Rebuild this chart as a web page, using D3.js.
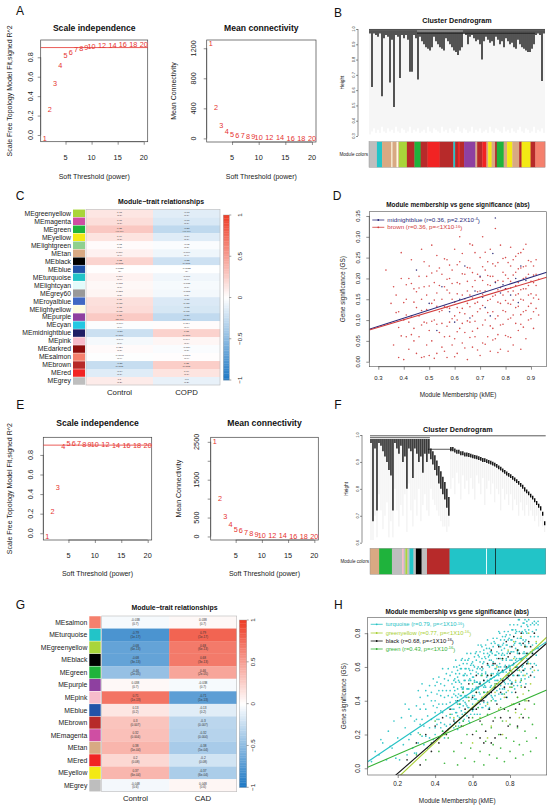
<!DOCTYPE html>
<html><head><meta charset="utf-8">
<script src="https://cdn.jsdelivr.net/npm/d3@7/dist/d3.min.js"></script>
<style>
html,body{margin:0;padding:0;background:#fff;}
svg{display:block;}
text{font-family:"Liberation Sans",Arial,Helvetica,sans-serif;}
</style></head><body>
<svg id="fig" width="550" height="807" viewBox="0 0 550 807"></svg>
<script>
// ================= DATA =================
// soft-threshold analysis
const powers = [1,2,3,4,5,6,7,8,9,10,12,14,16,18,20];
const copdR2 = [-0.034,0.268,0.532,0.72,0.814,0.85,0.88,0.895,0.9,0.91,0.92,0.925,0.93,0.93,0.935];
const copdK  = [1260,414,178,86,56,43,34,26,21,17,10,6,4,3,2];
const cadR2  = [-0.035,0.22,0.47,0.885,0.92,0.92,0.92,0.905,0.905,0.905,0.905,0.9,0.895,0.895,0.895];
const cadK   = [2520,1000,518,308,195,150,105,70,53,37,25,18,12,9,7];
const r2Cut = 0.9;
const r2Ticks = [0,0.2,0.4,0.6,0.8];
const copdKTicks = [0,400,800,1200];
const cadKTicks = [0,500,1000,1500,2000,2500];
const cadKShown = [true,true,false,true,false,true];
const powerTicks = [5,10,15,20];

// dendrogram B (COPD): per-leaf heights
const dB_top = [
0.99,0.99,0.99,0.99,0.99,0.99,0.99,0.99,0.99,0.99,
0.99,0.99,0.99,0.99,0.99,0.99,0.99,0.99,0.99,0.99,
0.99,0.99,0.99,0.99,0.985,0.985,0.985,0.985,0.985,0.985,
0.985,0.985,0.985,0.985,0.985,0.985,0.985,0.985,0.985,0.985,
0.985,0.985,0.985,0.985,0.985,0.985,0.985,0.99,0.99,0.99,
0.99,0.99,0.99,0.99,0.99,0.99,0.99,0.99,0.99,0.99,
0.99,0.99,0.99,0.99,0.99,0.99,0.99,0.99,0.99,0.99,
0.99,0.99,0.99,0.99,0.99,0.99,0.99,0.99,0.99,0.99,
0.99,0.99,0.99,0.99,0.99,0.99,0.99,0.99];
const dB_bot = [
0.97,0.62,0.97,0.96,0.95,0.97,0.56,0.94,0.96,0.95,
0.65,0.93,0.49,0.96,0.95,0.68,0.96,0.94,0.96,0.93,
0.72,0.72,0.96,0.94,0.67,0.95,0.92,0.90,0.88,0.87,
0.86,0.88,0.95,0.92,0.90,0.88,0.87,0.86,0.94,0.92,
0.90,0.88,0.86,0.85,0.83,0.86,0.88,0.97,0.96,0.90,
0.95,0.96,0.94,0.92,0.93,0.90,0.80,0.92,0.95,0.93,
0.91,0.92,0.89,0.95,0.93,0.90,0.92,0.88,0.94,0.92,
0.90,0.91,0.88,0.87,0.93,0.90,0.88,0.87,0.86,0.85,
0.85,0.87,0.90,0.96,0.97,0.96,0.66,0.97];
const dB_hang = [
0.31,0.33,0.35,0.32,0.34,0.32,0.36,0.33,0.32,0.35,
0.33,0.34,0.32,0.36,0.33,0.32,0.35,0.34,0.32,0.33,
0.36,0.32,0.34,0.33,0.35,0.32,0.33,0.34,0.32,0.36,
0.33,0.32,0.35,0.34,0.33,0.32,0.36,0.33,0.34,0.32,
0.35,0.33,0.32,0.34,0.36,0.33,0.32,0.35,0.34,0.32,
0.33,0.36,0.32,0.34,0.33,0.35,0.32,0.33,0.34,0.32,
0.36,0.33,0.32,0.35,0.34,0.33,0.32,0.36,0.33,0.34,
0.32,0.35,0.33,0.32,0.34,0.36,0.33,0.32,0.35,0.34,
0.32,0.33,0.36,0.32,0.34,0.33,0.35,0.32];
const dB_links = [[0,88,0.997],[0,88,0.992],[24,83,0.972]];
const dB_ticks = [0.3,0.4,0.5,0.6,0.7,0.8,0.9,1.0];
const modB = [["grey",23],["turquoise",15],["tan",27],["lightyellow",3],["tan",12],["lightyellow",5],["tan",2],
["greenyellow",23],["brown",22],["green",18],["brown",20],["red",35],["brown",40],["turquoise",5],["brown",8],
["red",5],["brown",13],["purple",33],["tan",5],["brown",15],["red",12],["tan",5],["yellow",10],["tan",10],
["brown",5],["green",20],["tan",10],["yellow",15],["tan",20],["brown",7],["yellow",26],["brown",14],["salmon",28]];

// dendrogram F (CAD)
const dF_top = [
0.985,0.985,0.985,0.985,0.985,0.985,0.985,0.985,0.985,0.985,
0.985,0.985,0.985,0.985,0.985,0.985,0.985,0.985,0.985,0.985,
0.985,0.985,0.985,0.985,0.985,0.985,0.985,0.985,0.985,0.985,
0.95,0.94,0.925,0.905,0.885,0.865,0.845,0.825,0.80,0.77,
0.955,0.955,0.95,0.945,0.945,0.94,0.94,0.935,0.935,0.933,
0.93,0.928,0.926,0.924,0.921,0.918,0.915,0.914,0.91,0.907,
0.904,0.901,0.897,0.892,0.887,0.882,0.876,0.87,0.864,0.859,
0.854,0.848,0.842,0.836,0.829,0.822,0.815,0.806,0.798,0.79,
0.782,0.774,0.765,0.755,0.745,0.735,0.715,0.68];
const dF_bot = [
0.97,0.68,0.95,0.72,0.97,0.96,0.94,0.92,0.90,0.87,
0.85,0.72,0.97,0.95,0.93,0.96,0.90,0.92,0.80,0.95,
0.94,0.84,0.95,0.93,0.90,0.92,0.86,0.93,0.90,0.93,
0.91,0.89,0.87,0.85,0.82,0.80,0.78,0.76,0.73,0.70,
0.94,0.94,0.935,0.93,0.93,0.925,0.925,0.92,0.92,0.918,
0.916,0.914,0.912,0.91,0.907,0.904,0.90,0.90,0.896,0.893,
0.89,0.887,0.883,0.878,0.873,0.868,0.862,0.856,0.85,0.845,
0.84,0.834,0.828,0.822,0.815,0.808,0.80,0.79,0.784,0.776,
0.768,0.76,0.75,0.74,0.73,0.72,0.70,0.665];
const dF_hang = [
0.61,0.61,0.70,0.62,0.78,0.72,0.65,0.70,0.75,0.62,
0.68,0.62,0.80,0.72,0.66,0.74,0.70,0.78,0.64,0.82,
0.72,0.66,0.76,0.70,0.80,0.68,0.74,0.78,0.72,0.70,
0.80,0.76,0.74,0.72,0.70,0.68,0.66,0.66,0.64,0.66,
0.80,0.84,0.78,0.86,0.82,0.76,0.85,0.80,0.83,0.78,
0.84,0.80,0.76,0.85,0.82,0.78,0.84,0.74,0.80,0.83,
0.78,0.82,0.75,0.80,0.78,0.72,0.80,0.76,0.78,0.74,
0.78,0.72,0.76,0.74,0.70,0.75,0.72,0.70,0.74,0.70,
0.72,0.70,0.68,0.70,0.66,0.68,0.66,0.64];
const dF_links = [[0,88,0.997],[0,30,0.99],[29,41,0.947]];
const dF_ticks = [0.6,0.7,0.8,0.9,1.0];
const modF = [["tan",27],["green",38],["grey",30],["pink",5],["grey",5],["greenyellow",6],["grey",6],["turquoise",12],
["grey",7],["black",17],["grey",16],["brown",67],["turquoise",108],["lightcyan",3],["turquoise",24],["black",2],["turquoise",148]];

// module-trait relationships, COPD dataset
const copdModules = ["greenyellow","magenta","green","yellow","lightgreen","tan","black","blue","turquoise","lightcyan","grey60","royalblue","lightyellow","purple","cyan","midnightblue","pink","darkred","salmon","brown","red","grey"];
const copdCtrl = [0.13,0.17,0.28,0.14,0.02,0.069,0.22,0.0028,0.066,0.038,0.053,0.16,0.18,0.27,-0.014,-0.23,-0.044,0.024,-0.0096,-0.25,-0.14,0.1];
const copdCOPD = [-0.13,-0.17,-0.28,-0.14,-0.02,-0.069,-0.22,-0.0028,-0.066,-0.038,-0.053,-0.16,-0.18,-0.27,0.014,0.23,0.044,-0.024,0.0096,0.25,0.14,-0.1];
const copdP = ["0.1","0.1","4e-04","0.1","0.8","0.4","0.008","1","0.4","0.7","0.5","0.05","0.03","2e-04","0.9","0.006","0.6","0.8","0.9","0.002","0.1","0.2"];
const copdTraits = ["Control","COPD"];

// module-trait relationships, CAD dataset
const cadModules = ["salmon","turquoise","greenyellow","black","green","purple","pink","blue","brown","magenta","tan","red","yellow","grey"];
const cadCtrl = [-0.038,-0.79,-0.68,-0.68,-0.46,0.038,0.71,0.13,0.3,0.32,0.38,0.2,0.37,-0.048];
const cadCAD  = [0.038,0.79,0.68,0.68,0.46,-0.038,-0.71,-0.13,-0.3,-0.32,-0.38,-0.2,-0.37,0.048];
const cadP = ["0.7","1e-17","6e-13","3e-13","2e-05","0.7","1e-13","0.2","0.007","0.004","5e-04","0.08","6e-04","0.6"];
const cadTraits = ["Control","CAD"];
const cbTicks = [-1,-0.5,0,0.5,1];

// panel D scatter: [kME x100, GS x1000]
const dBrown = [
[33,220],[35,140],[36,40],[37,160],[38,10],[39,262],[39,200],[40,100],[40,5],[38,120],[36,180],
[41,150],[41,60],[42,200],[42,30],[43,110],[43,245],[44,80],[44,175],[45,20],[45,130],[42,95],[44,50],[41,185],
[46,205],[46,60],[47,150],[47,10],[47,270],[48,95],[48,180],[49,40],[49,125],[50,230],[50,75],[46,110],[48,240],[49,160],[50,15],
[51,140],[51,50],[52,190],[52,100],[53,20],[53,255],[53,165],[54,70],[54,120],[55,210],[55,35],[51,280],[52,8],[54,225],[55,150],[53,90],
[56,180],[56,60],[57,130],[57,245],[57,10],[58,95],[58,200],[59,40],[59,150],[60,270],[60,110],[56,25],[58,165],[59,220],[60,55],[57,85],
[61,190],[61,130],[61,20],[62,240],[62,80],[62,300],[63,160],[63,45],[64,210],[64,115],[65,5],[65,170],[63,260],[64,70],[65,140],[61,100],
[66,225],[66,95],[67,180],[67,35],[67,280],[68,140],[68,60],[69,210],[69,120],[70,250],[70,15],[66,160],[68,195],[69,80],[70,170],[67,110],
[71,300],[71,135],[71,45],[72,220],[72,100],[73,185],[73,60],[73,240],[74,150],[74,25],[75,205],[75,120],[72,170],[74,270],[75,80],[71,195],
[76,230],[76,160],[76,55],[77,195],[77,110],[78,280],[78,140],[78,30],[79,215],[79,90],[80,175],[80,250],[77,65],[79,160],[80,120],[76,320],
[81,200],[81,140],[81,60],[82,230],[82,105],[82,275],[83,170],[83,40],[84,215],[84,130],[85,190],[85,75],[83,245],[84,160],[81,25],[85,260],
[86,225],[86,150],[86,90],[87,200],[87,270],[87,120],[88,175],[88,230],[88,55],[89,160],[89,210],[90,140],[90,240],[86,30],[89,100],[87,175],
[91,190],[91,230],[91,120],[92,160],[92,210],[93,150],[91,80],[92,245],
[43,65],[44,143],[46,177],[47,88],[48,12],[49,205],[51,97],[52,148],[53,218],[54,183],[55,92],[56,133],[56,247],[57,172],[58,61],[58,128],
[59,188],[60,12],[60,143],[61,72],[61,233],[62,118],[62,187],[63,92],[63,211],[64,33],[64,151],[65,98],[65,226],[66,132],[66,58],[67,153],
[67,214],[68,97],[68,262],[69,168],[69,28],[70,127],[70,203],[71,88],[71,162],[72,42],[72,263],[73,118],[73,207],[74,183],[74,86],[75,157],
[75,235],[75,52],[76,103],[76,192],[77,238],[77,143],[77,22],[78,178],[78,88],[79,248],[79,123],[80,63],[80,208],[80,147],[81,168],[81,102],
[82,193],[82,138],[82,58],[83,208],[83,112],[84,183],[84,92],[84,253],[85,133],[85,223],[86,173],[86,113],[86,262],[87,148],[87,83],[88,203],
[88,123],[88,282],[89,183],[89,133],[90,193],[90,103],[90,163],[91,153],[91,208],[92,183],[92,128],[93,198],[87,228],[85,163],[83,148],[81,238],
[79,193],[77,173],[73,147],[71,228],[69,143],[67,73],[65,193],[63,128],[61,163],[59,103],[57,198],[55,123],[53,133],[51,213],[49,93],[47,123],
[45,168],[43,188],[41,112],[40,142],[39,62],[38,82],[37,118],[50,182],[58,232],[66,283],[74,205],[82,177],[89,243],[93,112]];
const dNavy = [[45,220],[50,140],[55,180],[58,120],[62,150],[64,230],[68,170],[70,205],[72,130],[74,110],[76,190],[76,345],
[78,165],[80,175],[82,160],[84,200],[86,230],[88,195],[75,260],[66,105],[53,75],[60,95],[71,155],[79,185],[85,142]];
const dFits = [{name:"midnightblue", a:0.026, b:0.1966}, {name:"brown", a:0.0278, b:0.182}];
const dLegend = [["midnightblue","(r=0.36, p=2.2X10","-4"],["brown","(r=0.36, p=<1X10","-16"]];
const dXTicks = [0.3,0.4,0.5,0.6,0.7,0.8,0.9];
const dYTicks = [0,0.05,0.1,0.15,0.2,0.25,0.3,0.35];

// panel H scatter: [kME x100, GS x100]
const hTurq = [
[6,4],[8,10],[10,8],[11,17],[12,15],[14,5],[15,22],[16,13],[17,12],[18,28],[19,6],[20,18],[21,5],[22,30],[23,14],[24,24],[25,8],[26,35],[27,20],[28,12],[29,28],[24,38],[26,17],[27,31],[29,9],
[30,9],[30,29],[30,37],[31,21],[31,46],[31,15],[32,35],[32,26],[32,42],[33,19],[33,29],[33,50],[34,14],[34,38],[34,25],
[35,46],[35,19],[35,35],[36,12],[36,43],[36,31],[37,24],[37,49],[37,18],[38,40],[38,29],[38,45],[39,17],[39,37],[39,53],
[40,24],[40,40],[40,33],[40,49],[40,20],[41,44],[41,29],[41,51],[41,26],[41,36],[42,18],[42,38],[42,46],[42,29],[42,54],
[43,24],[43,43],[43,34],[43,50],[43,27],[44,38],[44,59],[44,22],[44,46],[44,33],[45,53],[45,26],[45,42],[45,18],[45,49],
[46,38],[46,31],[46,56],[46,25],[46,46],[47,36],[47,52],[47,23],[47,43],[47,59],[48,30],[48,46],[48,39],[48,55],[48,26],
[49,50],[49,35],[49,57],[49,32],[49,42],
[50,24],[50,44],[50,52],[50,35],[50,60],[50,29],[50,48],[51,40],[51,56],[51,33],[51,43],[51,64],[51,27],[51,51],
[52,38],[52,58],[52,31],[52,47],[52,23],[52,54],[52,42],[53,36],[53,61],[53,30],[53,51],[53,40],[53,56],[53,27],
[54,48],[54,64],[54,34],[54,50],[54,43],[54,59],[54,30],[55,55],[55,40],[55,62],[55,37],[55,47],[55,28],[55,48],
[56,56],[56,39],[56,64],[56,33],[56,52],[56,43],[56,59],[57,37],[57,47],[57,68],[57,31],[57,55],[57,42],[57,62],
[58,36],[58,52],[58,28],[58,59],[58,47],[58,40],[58,65],[59,35],[59,56],[59,45],[59,61],[59,32],[59,52],[59,68],
[60,38],[60,54],[60,47],[60,63],[60,34],[60,58],[60,43],[61,66],[61,41],[61,51],[61,32],[61,52],[61,60],[61,43],
[62,69],[62,38],[62,57],[62,48],[62,64],[62,41],[62,51],[63,73],[63,36],[63,60],[63,47],[63,67],[63,40],[63,56],
[64,32],[64,63],[64,51],[64,44],[64,69],[64,38],[64,59],[65,49],[65,65],[65,36],[65,56],[65,72],[65,42],[65,58],
[66,52],[66,68],[66,39],[66,63],[66,48],[66,70],[66,45],[67,56],[67,37],[67,57],[67,65],[67,48],[67,73],[67,42],
[68,61],[68,52],[68,68],[68,45],[68,55],[68,76],[68,39],[69,64],[69,51],[69,71],[69,44],[69,60],[69,36],[69,67],
[70,56],[70,49],[70,74],[70,43],[70,64],[70,53],[70,69],[71,41],[71,61],[71,77],[71,47],[71,63],[71,56],[71,72],
[72,43],[72,67],[72,52],[72,74],[72,49],[72,59],[72,40],[73,61],[73,69],[73,52],[73,77],[73,46],[73,65],[73,56],
[74,73],[74,50],[74,60],[74,81],[74,44],[74,68],[74,55],[75,76],[75,49],[75,65],[75,41],[75,72],[75,60],[75,53],
[76,78],[76,47],[76,68],[76,57],[76,73],[76,44],[76,64],[77,81],[77,51],[77,67],[77,60],[77,76],[77,47],[77,71],
[78,57],[78,79],[78,54],[78,64],[78,45],[78,65],[78,73],[79,56],[79,81],[79,50],[79,69],[79,60],[79,76],[79,53],
[80,64],[80,85],[80,48],[80,72],[80,59],[80,79],[80,52],[81,69],[81,45],[81,76],[81,64],[81,57],[81,82],[81,51],
[82,73],[82,62],[82,78],[82,49],[82,69],[82,85],[82,55],[83,71],[83,64],[83,80],[83,51],[83,75],[83,60],[83,82],
[84,58],[84,68],[84,49],[84,69],[84,77],[84,60],[84,85],[85,55],[85,74],[85,65],[85,81],[85,58],[85,68],[85,88],
[86,53],[86,77],[86,64],[86,84],[86,57],[86,73],[86,49],[87,80],[87,68],[87,61],[87,86],[87,55],[87,76],[87,65],
[88,82],[88,53],[88,73],[88,88],[88,59],[88,75],[88,68],[89,85],[89,56],[89,80],[89,65],[89,87],[89,62],[89,72],
[90,54],[90,74],[90,82],[90,65],[90,88],[91,59],[91,78],[91,69],[91,85],[91,62],[92,73],[92,86],[92,57],[92,81],[92,68],
[93,87],[93,62],[93,78],[93,54],[93,85],[94,74],[94,67],[94,86],[94,61],[94,82],[95,71],[95,87],[95,58],[95,78],[95,85],
[50.5,46],[50.5,27],[50.5,53],[51.5,39],[51.5,60],[51.5,33],[52.5,44],[52.5,25],[52.5,52],[53.5,38],[53.5,59],[53.5,43],
[54.5,65],[54.5,32],[54.5,47],[55.5,55],[55.5,29],[55.5,52],[56.5,42],[56.5,59],[56.5,38],[57.5,64],[57.5,36],[57.5,47],
[58.5,58],[58.5,27],[58.5,53],[59.5,46],[59.5,62],[59.5,41],[60.5,54],[60.5,35],[60.5,61],[61.5,47],[61.5,68],[61.5,41],
[62.5,51],[62.5,32],[62.5,59],[63.5,45],[63.5,66],[63.5,50],[64.5,73],[64.5,40],[64.5,55],[65.5,62],[65.5,36],[65.5,59],
[66.5,49],[66.5,66],[66.5,45],[67.5,71],[67.5,43],[67.5,54],[68.5,66],[68.5,35],[68.5,61],[69.5,53],[69.5,69],[69.5,48],
[70.5,61],[70.5,42],[70.5,68],[71.5,54],[71.5,75],[71.5,48],[72.5,59],[72.5,40],[72.5,67],[73.5,52],[73.5,73],[73.5,57],
[74.5,80],[74.5,47],[74.5,62],[75.5,70],[75.5,44],[75.5,67],[76.5,57],[76.5,74],[76.5,53],[77.5,78],[77.5,50],[77.5,61],
[78.5,73],[78.5,42],[78.5,68],[79.5,61],[79.5,77],[79.5,56],[80.5,69],[80.5,50],[80.5,76],[81.5,61],[81.5,82],[81.5,55],
[82.5,66],[82.5,47],[82.5,74],[83.5,60],[83.5,81],[83.5,65],[84.5,88],[84.5,55],[84.5,70],[85.5,77],[85.5,51],[85.5,74],
[86.5,64],[86.5,81],[86.5,60],[87.5,86],[87.5,58],[87.5,69],[88.5,81],[88.5,50],[88.5,76],[89.5,68],[89.5,84],[89.5,63]];
const hGreenyellow = [[45,20],[50,30],[55,25],[58,40],[60,15],[62,45],[64,30],[66,50],[68,38],[70,55],[70,25],[72,45],[73,60],[74,35],[75,50],[76,65],[77,42],[78,55],[78,28],[79,70],[80,48],[80,60],[81,38],[82,65],[82,75],[83,52],[84,42],[84,70],[85,58],[86,78],[86,48],[87,65],[88,55],[88,72],[89,40],[90,62],[90,80],[91,50],[92,70],[93,58],[94,75],[85,30],[76,20],[68,18],[88,35],[81,57],[87,44],[91,66],[83,33],[79,46]];
const hBlack = [[25,5],[30,15],[32,2],[35,20],[38,10],[40,25],[42,15],[44,30],[46,20],[48,35],[50,28],[52,40],[54,25],[55,45],[56,35],[58,30],[58,50],[60,42],[60,20],[62,55],[62,35],[63,48],[64,28],[65,60],[65,40],[66,52],[67,22],[68,62],[68,45],[69,35],[70,55],[70,70],[71,28],[72,48],[72,62],[73,38],[74,58],[74,72],[75,45],[75,20],[76,65],[76,52],[77,35],[78,60],[78,75],[78,42],[79,55],[80,68],[80,30],[81,50],[82,62],[82,78],[83,45],[84,70],[84,55],[85,38],[86,65],[86,80],[87,58],[88,72],[88,48],[89,62],[90,75],[91,55],[92,68],[93,80],[90,40],[66,15],[72,18],[84,25],
[60,35],[62,45],[64,50],[66,40],[68,55],[70,45],[71,62],[73,50],[74,65],[76,58],[77,48],[79,66],[80,58],[81,72],[83,60],[85,68],[87,74],[89,68],[91,72],[92,60],[75,30],[79,25],[83,35],[87,30],[70,15],[64,18]];
const hGreen = [[30,8],[32,20],[35,5],[38,15],[40,28],[42,10],[44,22],[45,3],[47,18],[48,32],[50,10],[51,25],[52,2],[53,38],[54,15],[55,28],[56,6],[57,20],[58,42],[59,12],[60,30],[61,4],[62,22],[63,36],[64,10],[65,26],[66,45],[66,2],[67,16],[68,32],[69,8],[70,24],[70,40],[71,14],[72,30],[72,50],[73,6],[74,20],[75,36],[75,12],[76,28],[77,44],[77,4],[78,18],[79,34],[80,10],[80,26],[81,48],[82,16],[82,38],[83,6],[84,24],[84,42],[85,14],[86,32],[86,52],[87,8],[88,22],[88,40],[89,16],[90,30],[90,46],[91,10],[92,26],[93,38],[94,18],[55,45],[60,50],[65,55]];
const hFits = [{name:"turquoise", a:0.009, b:0.744},{name:"greenyellow", a:-0.265, b:1.045},{name:"black", a:-0.224, b:0.968},{name:"green", a:-0.013, b:0.479}];
const hLegend = [["turquoise","(r=0.79, p=<1X10","-16"],["greenyellow","(r=0.77, p=<1X10","-16"],["black","(r=0.68, p=<1X10","-16"],["green","(r=0.43, p=<1X10","-16"]];
const hXTicks = [0.2,0.4,0.6,0.8];
const hYTicks = [0,0.2,0.4,0.6,0.8];

// ================= STYLE =================
const moduleColor = {
  greenyellow:"#a9d53a", magenta:"#cf4ea3", green:"#1fb33c", yellow:"#f3e914", lightgreen:"#8fd08f", tan:"#d8a983",
  black:"#000000", blue:"#2253a8", turquoise:"#22c4c8", lightcyan:"#e3fbfb", grey60:"#999999", royalblue:"#4068c4",
  lightyellow:"#fdfbe0", purple:"#8e40a0", cyan:"#22c7e2", midnightblue:"#1e1e64", pink:"#f7bccb", darkred:"#8e0d0d",
  salmon:"#f5806d", brown:"#b72a2a", red:"#f12323", grey:"#bebebe", white:"#ffffff"
};
const pointColor = {brown:"#d23c3c", midnightblue:"#2a2a7a", turquoise:"#25c2c4", greenyellow:"#a8cf33", black:"#111111", green:"#35b235"};
const heatColor = d3.scaleLinear().domain([-1,0,1]).range(["#1b77c4","#ffffff","#ee3b24"]);
const INK = "#222";
const RED = "#e6332f";

// ================= HELPERS =================
const svg = d3.select("#fig");
const defs = svg.append("defs");

function T(g, x, y, s, o = {}) {
  const t = g.append("text").attr("x", x).attr("y", y).attr("dy", o.dy ?? "0.35em")
    .attr("text-anchor", o.anchor || "middle").attr("font-size", o.size || 7)
    .attr("fill", o.fill || INK).text(s);
  if (o.bold) t.attr("font-weight", "bold");
  if (o.rot) t.attr("transform", `rotate(${o.rot},${x},${y})`);
  return t;
}
function L(g, x1, y1, x2, y2, c, w) {
  return g.append("line").attr("x1", x1).attr("y1", y1).attr("x2", x2).attr("y2", y2)
    .attr("stroke", c || INK).attr("stroke-width", w || 0.6);
}
function axisBottom(g, sc, ticks, y0, labY, fs, fmt, tick = 3) {
  g.append("g").attr("transform", `translate(0,${y0})`)
    .call(d3.axisBottom(sc).tickValues(ticks).tickSize(tick).tickFormat(""))
    .call(a => { a.select(".domain").remove(); a.selectAll("line").attr("stroke", "#444").attr("stroke-width", 0.6); });
  L(g, sc(ticks[0]), y0, sc(ticks[ticks.length - 1]), y0, "#444", 0.6);
  ticks.forEach(t => T(g, sc(t), labY, fmt(t), {size: fs}));
}
function axisLeft(g, sc, ticks, x0, labX, fs, fmt, show, tick = 3) {
  g.append("g").attr("transform", `translate(${x0},0)`)
    .call(d3.axisLeft(sc).tickValues(ticks).tickSize(tick).tickFormat(""))
    .call(a => { a.select(".domain").remove(); a.selectAll("line").attr("stroke", "#444").attr("stroke-width", 0.6); });
  L(g, x0, sc(ticks[0]), x0, sc(ticks[ticks.length - 1]), "#444", 0.6);
  ticks.forEach((t, i) => { if (!show || show[i]) T(g, labX, sc(t), fmt(t), {size: fs, rot: -90}); });
}
function letter(x, y, s) { T(svg, x, y, s, {size: 12, fill: "#111"}); }

// ================= SOFT THRESHOLD PANELS =================
function sftPanel(o) {
  const g = svg.append("g");
  const [bx0, by0, bx1, by1] = o.box;
  const x = d3.scaleLinear().domain([0.24, 20.76]).range([bx0, bx1]);
  const y = d3.scaleLinear().domain(o.ydom).range([by1, by0]);
  g.append("rect").attr("x", bx0).attr("y", by0).attr("width", bx1 - bx0).attr("height", by1 - by0)
    .attr("fill", "none").attr("stroke", "#444").attr("stroke-width", 0.7);
  axisBottom(g, x, powerTicks, by1, o.xLabY, 7.3, d => d);
  axisLeft(g, y, o.yticks, bx0, o.yLabX, 7.3, o.fmt, o.show);
  T(g, (bx0 + bx1) / 2, o.titleY, o.title, {size: 8.6, bold: true, fill: "#111"});
  T(g, (bx0 + bx1) / 2, o.xTitY, "Soft Threshold (power)", {size: 7});
  T(g, o.yTitX, (by0 + by1) / 2, o.ytitle, {size: 7, rot: -90});
  if (o.hline != null) L(g, bx0, y(o.hline), bx1, y(o.hline), RED, 0.8);
  g.selectAll(null).data(o.vals).join("text")
    .attr("x", (d, i) => x(powers[i])).attr("y", d => y(d)).attr("dy", "0.35em")
    .attr("text-anchor", "middle").attr("font-size", 7.3).attr("fill", RED)
    .text((d, i) => powers[i]);
}

sftPanel({box: [40.7, 40, 147.7, 141.7], ydom: [-0.069, 0.978], yticks: r2Ticks, fmt: d3.format(".1f"),
  vals: copdR2, hline: r2Cut, title: "Scale independence", titleY: 28, xLabY: 157, xTitY: 177, yLabX: 30,
  yTitX: 10, ytitle: "Scale Free Topology Model Fit,signed R^2"});
sftPanel({box: [206.7, 40, 316, 142], ydom: [-48, 1310], yticks: copdKTicks, fmt: d => d,
  vals: copdK, title: "Mean connectivity", titleY: 28, xLabY: 157, xTitY: 177, yLabX: 193.5,
  yTitX: 173.5, ytitle: "Mean Connectivity"});
sftPanel({box: [43.3, 437.3, 151.7, 540], ydom: [-0.069, 0.98], yticks: r2Ticks, fmt: d3.format(".1f"),
  vals: cadR2, hline: r2Cut, title: "Scale independence", titleY: 423, xLabY: 555, xTitY: 573.5, yLabX: 30.7,
  yTitX: 10, ytitle: "Scale Free Topology Model Fit,signed R^2"});
sftPanel({box: [210.7, 437.3, 318.3, 540], ydom: [-93, 2620], yticks: cadKTicks, show: cadKShown, fmt: d => d,
  vals: cadK, title: "Mean connectivity", titleY: 423, xLabY: 555, xTitY: 573.5, yLabX: 196.7,
  yTitX: 178.3, ytitle: "Mean Connectivity"});

// ================= DENDROGRAMS =================
function dendro(o) {
  const g = svg.append("g");
  const n = o.bot.length;
  const x = d3.scaleLinear().domain([0, n]).range([o.x0, o.x1]);
  const y = d3.scaleLinear().domain([o.ticks[0], 1.0]).range([o.yB, o.yT]);
  // hanging leaves (light grey)
  g.selectAll(null).data(o.bot).join("line")
    .attr("x1", (d, i) => x(i + 0.5)).attr("x2", (d, i) => x(i + 0.5))
    .attr("y1", d => y(d)).attr("y2", (d, i) => y(o.hang[i]))
    .attr("stroke", "#c2c2c2").attr("stroke-width", 0.28);
  // dense branches (black icicles)
  g.selectAll(null).data(o.bot).join("line")
    .attr("x1", (d, i) => x(i + 0.5)).attr("x2", (d, i) => x(i + 0.5))
    .attr("y1", (d, i) => y(o.top[i])).attr("y2", d => y(d))
    .attr("stroke", "#000").attr("stroke-width", 1.35);
  // merge lines
  o.links.forEach(l => L(g, x(l[0]), y(l[2]), x(l[1]), y(l[2]), "#111", 0.7));
  // axis
  axisLeft(g, y, o.ticks, o.axX, o.axX - 4, 4, d3.format(".1f"), null, 2);
  T(g, o.axX - 16, (o.yT + o.yB) / 2, "Height", {size: 4.8, rot: -90});
  T(g, (o.x0 + o.x1) / 2, o.titleY, "Cluster Dendrogram", {size: 7.2, bold: true, fill: "#111"});
  // module colour bar
  const tot = d3.sum(o.mods, m => m[1]);
  const cx = d3.scaleLinear().domain([0, tot]).range([o.x0, o.x1]);
  let acc = 0;
  o.mods.forEach(m => {
    g.append("rect").attr("x", cx(acc)).attr("width", cx(acc + m[1]) - cx(acc) + 0.3)
      .attr("y", o.cb[0]).attr("height", o.cb[1] - o.cb[0]).attr("fill", moduleColor[m[0]]);
    acc += m[1];
  });
  g.append("rect").attr("x", o.x0).attr("y", o.cb[0]).attr("width", o.x1 - o.x0).attr("height", o.cb[1] - o.cb[0])
    .attr("fill", "none").attr("stroke", "#888").attr("stroke-width", 0.4);
  T(g, o.x0 - 1, (o.cb[0] + o.cb[1]) / 2, "Module colors", {size: 4.6, anchor: "end"});
}
dendro({x0: 369, x1: 545, yT: 29, yB: 136, axX: 358, ticks: dB_ticks, top: dB_top, bot: dB_bot, hang: dB_hang,
  links: dB_links, mods: modB, cb: [141.7, 167.3], titleY: 20});
dendro({x0: 370, x1: 545.7, yT: 435, yB: 542.7, axX: 362, ticks: dF_ticks, top: dF_top, bot: dF_bot, hang: dF_hang,
  links: dF_links, mods: modF, cb: [548.3, 574.3], titleY: 429});

// ================= HEATMAPS =================
function heatmap(o) {
  const g = svg.append("g");
  const n = o.mods.length;
  const y = d3.scaleBand().domain(d3.range(n)).range([o.y0, o.y1]);
  const x = d3.scaleBand().domain([0, 1]).range([o.x0, o.x1]);
  const cols = [o.v0, o.v1];
  cols.forEach((vals, c) => {
    g.selectAll(null).data(vals).join("rect")
      .attr("x", x(c)).attr("width", x.bandwidth() + 0.2)
      .attr("y", (d, i) => y(i)).attr("height", y.bandwidth() + 0.2)
      .attr("fill", d => heatColor(d));
    vals.forEach((v, i) => {
      const cy = y(i) + y.bandwidth() / 2, cxp = x(c) + x.bandwidth() / 2;
      T(g, cxp, cy - o.cellFs * 0.62, String(v), {size: o.cellFs, fill: "#333"});
      T(g, cxp, cy + o.cellFs * 0.62, "(" + o.p[i] + ")", {size: o.cellFs, fill: "#333"});
    });
  });
  g.append("rect").attr("x", o.x0).attr("y", o.y0).attr("width", o.x1 - o.x0).attr("height", o.y1 - o.y0)
    .attr("fill", "none").attr("stroke", "#bbb").attr("stroke-width", 0.6);
  // swatches + labels
  g.selectAll(null).data(o.mods).join("rect")
    .attr("x", o.swX0).attr("width", o.swX1 - o.swX0)
    .attr("y", (d, i) => y(i) + 0.25).attr("height", y.bandwidth() - 0.5)
    .attr("fill", d => moduleColor[d]);
  o.mods.forEach((m, i) => T(g, o.labX, y(i) + y.bandwidth() / 2, "ME" + m, {size: 6.8, anchor: "end"}));
  o.traits.forEach((t, c) => T(g, x(c) + x.bandwidth() / 2, o.colY, t, {size: 7.8}));
  T(g, o.titleX, o.titleY, "Module\u2212trait relationships", {size: 6.9, bold: true, fill: "#111"});
  // colour bar
  const cy = d3.scaleLinear().domain([-1, 1]).range([o.cb[3], o.cb[1]]);
  const steps = d3.range(-1, 1, 0.02);
  g.selectAll(null).data(steps).join("rect")
    .attr("x", o.cb[0]).attr("width", o.cb[2] - o.cb[0])
    .attr("y", d => cy(d + 0.02)).attr("height", d => cy(d) - cy(d + 0.02) + 0.3)
    .attr("fill", d => heatColor(d + 0.01));
  g.append("rect").attr("x", o.cb[0]).attr("y", o.cb[1]).attr("width", o.cb[2] - o.cb[0]).attr("height", o.cb[3] - o.cb[1])
    .attr("fill", "none").attr("stroke", "#999").attr("stroke-width", 0.4);
  cbTicks.forEach(t => {
    L(g, o.cb[2], cy(t), o.cb[2] + 2, cy(t), "#444", 0.5);
    T(g, o.cbLabX, cy(t), t < 0 ? "\u2212" + Math.abs(t) : String(t), {size: 6.2, rot: -90});
  });
}
heatmap({mods: copdModules, v0: copdCtrl, v1: copdCOPD, p: copdP, traits: copdTraits,
  x0: 86, x1: 220, y0: 209.3, y1: 385, swX0: 73, swX1: 85, labX: 71, cellFs: 2.5,
  colY: 392.5, titleX: 161, titleY: 202, cb: [223.3, 215, 229.3, 380], cbLabX: 240});
heatmap({mods: cadModules, v0: cadCtrl, v1: cadCAD, p: cadP, traits: cadTraits,
  x0: 101.7, x1: 236.7, y0: 616, y1: 791.7, swX0: 89.3, swX1: 100.7, labX: 87.3, cellFs: 3.1,
  colY: 798, titleX: 174.5, titleY: 607.7, cb: [239.3, 620, 246.7, 787.3], cbLabX: 253});

// ================= SCATTER PANELS =================
function scatter(o) {
  const g = svg.append("g");
  const [bx0, by0, bx1, by1] = o.box;
  const x = d3.scaleLinear().domain(o.xdom).range([bx0, bx1]);
  const y = d3.scaleLinear().domain(o.ydom).range([by1, by0]);
  const cid = "clip" + o.id;
  defs.append("clipPath").attr("id", cid).append("rect")
    .attr("x", bx0).attr("y", by0).attr("width", bx1 - bx0).attr("height", by1 - by0);
  const pg = g.append("g").attr("clip-path", `url(#${cid})`);
  o.series.forEach(s => {
    pg.selectAll(null).data(s.pts).join("circle")
      .attr("cx", d => x(d[0] / s.k[0])).attr("cy", d => y(d[1] / s.k[1]))
      .attr("r", o.r).attr("fill", pointColor[s.name]).attr("fill-opacity", 0.9);
  });
  o.fits.forEach(f => {
    const [a, b] = x.domain();
    pg.append("line").attr("x1", x(a)).attr("y1", y(f.a + f.b * a)).attr("x2", x(b)).attr("y2", y(f.a + f.b * b))
      .attr("stroke", pointColor[f.name]).attr("stroke-width", 1.1);
  });
  g.append("rect").attr("x", bx0).attr("y", by0).attr("width", bx1 - bx0).attr("height", by1 - by0)
    .attr("fill", "none").attr("stroke", "#555").attr("stroke-width", 0.6);
  axisBottom(g, x, o.xticks, by1, o.xLabY, o.fs, d3.format(".1f"));
  axisLeft(g, y, o.yticks, bx0, o.yLabX, o.fs, o.yfmt);
  T(g, (bx0 + bx1) / 2, o.titleY, "Module membership vs gene significance (abs)", {size: 6.4, bold: true, fill: "#111"});
  T(g, (bx0 + bx1) / 2, o.xTitY, "Module Membership (kME)", {size: 6.4});
  T(g, o.yTitX, (by0 + by1) / 2, "Gene significance (GS)", {size: 6.4, rot: -90});
  // legend
  o.legend.forEach((l, i) => {
    const ly = o.legY[i], col = pointColor[l[0]];
    L(g, bx0 + 3, ly, bx0 + 15, ly, col, 0.8);
    g.append("circle").attr("cx", bx0 + 9).attr("cy", ly).attr("r", 0.9).attr("fill", col);
    const t = g.append("text").attr("x", bx0 + 18).attr("y", ly).attr("dy", "0.35em")
      .attr("font-size", o.legFs).attr("fill", col);
    t.append("tspan").text(l[0] + "  " + l[1]);
    t.append("tspan").attr("dy", "-0.45em").attr("font-size", o.legFs * 0.68).text(l[2]);
    t.append("tspan").attr("dy", "0.45em").text(")");
  });
}
scatter({id: "D", box: [369.3, 211.7, 546.7, 366.7], xdom: [0.2646, 0.9617], ydom: [-0.012, 0.3603], r: 0.8,
  series: [{name: "brown", pts: dBrown, k: [100, 1000]}, {name: "midnightblue", pts: dNavy, k: [100, 1000]}],
  fits: dFits, xticks: dXTicks, yticks: dYTicks, yfmt: d3.format(".2f"), fs: 6,
  xLabY: 378, yLabX: 358, titleY: 205, xTitY: 394.5, yTitX: 343, legFs: 6.2,
  legend: dLegend, legY: [220, 227.3]});
scatter({id: "H", box: [367.7, 617.3, 546.7, 775], xdom: [0.0397, 0.996], ydom: [-0.0397, 0.894], r: 0.85,
  series: [{name: "turquoise", pts: hTurq, k: [100, 100]}, {name: "greenyellow", pts: hGreenyellow, k: [100, 100]},
           {name: "black", pts: hBlack, k: [100, 100]}, {name: "green", pts: hGreen, k: [100, 100]}],
  fits: hFits, xticks: hXTicks, yticks: hYTicks, yfmt: d3.format(".1f"), fs: 6.4,
  xLabY: 783.5, yLabX: 358, titleY: 611.7, xTitY: 801, yTitX: 343.3, legFs: 5.8,
  legend: hLegend, legY: [624.3, 633, 641, 649]});

// ================= PANEL LETTERS =================
letter(20, 11, "A"); letter(338, 13, "B"); letter(20, 195.5, "C"); letter(337, 196, "D");
letter(20.3, 405, "E"); letter(338, 405, "F"); letter(20.5, 605, "G"); letter(338.3, 605, "H");
</script>
</body></html>
